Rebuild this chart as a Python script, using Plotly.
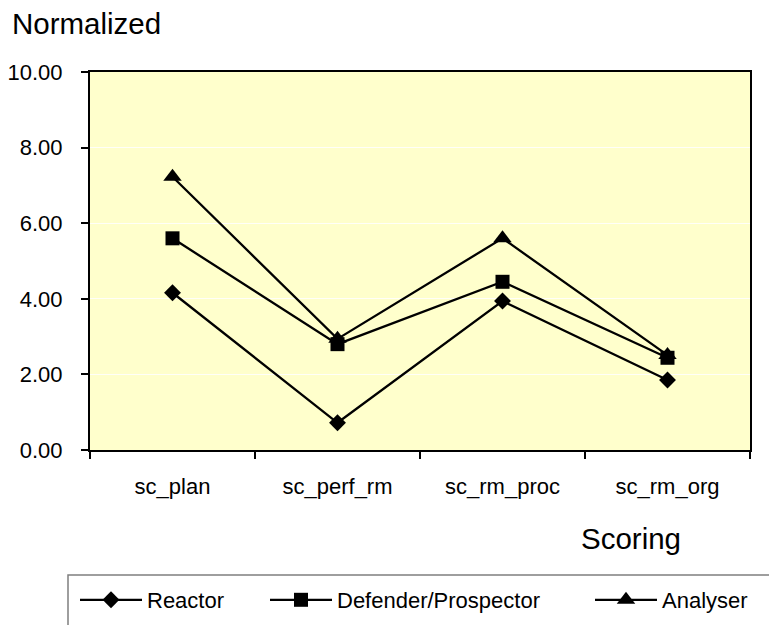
import plotly.graph_objects as go

# Scoring categories and normalized scores per strategy type
categories = ["sc_plan", "sc_perf_rm", "sc_rm_proc", "sc_rm_org"]
reactor = [4.16, 0.72, 3.94, 1.85]
defender_prospector = [5.60, 2.80, 4.45, 2.44]
analyser = [7.23, 2.94, 5.60, 2.51]

y_tick_values = [0, 2, 4, 6, 8, 10]
y_tick_labels = ["0.00", "2.00", "4.00", "6.00", "8.00", "10.00"]

FONT = "Liberation Sans, Arial, sans-serif"

# plot area in pixels (used to place paper-referenced decorations)
W, H = 769, 625
L, R, T, B = 90, 750, 72, 450


def px_x(px):
    return (px - L) / (R - L)


def px_y(py):
    return (B - py) / (B - T)


series = [
    ("Reactor", reactor, "diamond", 13, "legend", 80),
    ("Defender/Prospector", defender_prospector, "square", 14, "legend2", 270),
    ("Analyser", analyser, "triangle-up", 16, "legend3", 595),
]

fig = go.Figure()
for name, vals, sym, size, leg, _ in series:
    fig.add_trace(go.Scatter(
        x=categories, y=vals, name=name, mode="lines+markers",
        line=dict(color="black", width=2.3),
        marker=dict(symbol=sym, size=size, color="black"),
        legend=leg, cliponaxis=False,
    ))

legend_common = dict(
    orientation="h", xanchor="left", yanchor="middle",
    font=dict(family=FONT, size=22, color="black"),
    bgcolor="rgba(0,0,0,0)", borderwidth=0, itemwidth=62,
    tracegroupgap=0,
)
legends = {}
for name, vals, sym, size, leg, lx in series:
    legends[leg] = dict(legend_common, x=px_x(lx - 5), y=px_y(600))

fig.update_layout(
    width=W, height=H,
    margin=dict(l=L, r=W - R, t=T, b=H - B, pad=0, autoexpand=False),
    paper_bgcolor="white",
    plot_bgcolor="#FFFFCC",
    font=dict(family=FONT, size=22, color="black"),
    showlegend=True,
    **legends,
    xaxis=dict(
        type="category", range=[-0.5, 3.5],
        showline=True, linecolor="black", linewidth=2, mirror=True,
        ticks="outside", ticklen=7, tickwidth=1.5, tickcolor="black",
        tickson="boundaries", showgrid=False,
        tickfont=dict(family=FONT, size=22, color="black"),
        ticklabelstandoff=16,
    ),
    yaxis=dict(
        range=[0, 10], tickvals=y_tick_values, ticktext=y_tick_labels,
        showline=True, linecolor="black", linewidth=2, mirror=True,
        ticks="outside", ticklen=7, tickwidth=1.5, tickcolor="black",
        showgrid=True, gridcolor="rgba(255,255,255,0.85)", gridwidth=1,
        zeroline=False,
        tickfont=dict(family=FONT, size=22, color="black"),
        ticklabelstandoff=14,
    ),
    annotations=[
        dict(text="Normalized", xref="paper", yref="paper",
             x=px_x(10), y=px_y(23), xanchor="left", yanchor="middle",
             showarrow=False, font=dict(family=FONT, size=29.5, color="black")),
        dict(text="Scoring", xref="paper", yref="paper",
             x=px_x(579), y=px_y(538), xanchor="left", yanchor="middle",
             showarrow=False, font=dict(family=FONT, size=29.5, color="black")),
    ],
    shapes=[
        # legend frame running off the lower right edge
        dict(type="rect", xref="paper", yref="paper",
             x0=px_x(68), x1=px_x(820), y0=px_y(575), y1=px_y(700),
             line=dict(color="#7f7f7f", width=1.5), fillcolor="rgba(0,0,0,0)",
             layer="below"),
    ],
)

fig.write_html("out.html")
